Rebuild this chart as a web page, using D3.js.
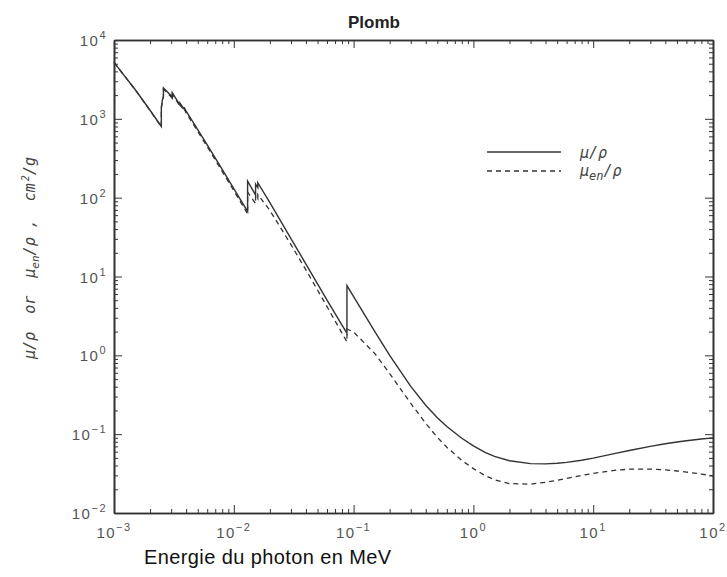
<!DOCTYPE html>
<html>
  <head>
    <title>Plomb</title>
    <style>
      body { margin: 0px; overflow: hidden; background: #fff; }
      svg { display: block; }
    </style>
    <script src="https://d3js.org/d3.v7.min.js"></script>
  </head>
  <body>
    <svg width="727" height="577"></svg>
    <script>
      // photon energy (MeV), edges repeated
      const energy = [
        1e-3, 1.5e-3, 2e-3, 2.484e-3, 2.484e-3, 2.534e-3, 2.586e-3, 2.586e-3, 3e-3,
        3.066e-3, 3.066e-3, 3.3e-3, 3.554e-3, 3.554e-3, 3.7e-3, 3.851e-3, 3.851e-3,
        4e-3, 5e-3, 6e-3, 8e-3, 1e-2, 1.304e-2, 1.304e-2, 1.5e-2, 1.52e-2, 1.52e-2,
        1.586e-2, 1.586e-2, 2e-2, 3e-2, 4e-2, 5e-2, 6e-2, 8e-2, 8.8e-2, 8.8e-2,
        0.1, 0.15, 0.2, 0.3, 0.4, 0.5, 0.6, 0.8, 1, 1.25, 1.5, 2, 3, 4, 5, 6, 8,
        10, 15, 20, 30, 40, 50, 60, 80, 100
      ];
      const muRho = [
        5210, 2356, 1285, 800.6, 1397, 1726, 1944, 2458, 1965,
        1857, 2146, 1796, 1496, 1585, 1442, 1335, 1399,
        1251, 730.4, 467.2, 228.7, 130.6, 67.01, 162.1, 111.6, 107.8, 148.5,
        134.4, 154.8, 86.36, 30.32, 14.36, 8.041, 5.021, 2.419, 1.91, 7.683,
        5.549, 2.014, 0.9985, 0.4031, 0.2323, 0.1614, 0.1248, 0.0887, 0.07102, 0.05876, 0.05222, 0.04606, 0.04234, 0.04197, 0.04272, 0.04391, 0.04675,
        0.04972, 0.05658, 0.06206, 0.07002, 0.07552, 0.07956, 0.08259, 0.08682, 0.08968
      ];
      const muEnRho = [
        5197, 2344, 1274, 789.5, 1366, 1682, 1895, 2390, 1895,
        1791, 2069, 1730, 1443, 1529, 1390, 1286, 1348,
        1190, 693.5, 442.7, 215.4, 122.6, 62.29, 118, 86.36, 83.72, 106.5,
        96.74, 110, 68.99, 25.36, 12.11, 6.74, 4.149, 1.916, 1.482, 2.16,
        1.976, 1.056, 0.587, 0.2455, 0.137, 0.09128, 0.06819, 0.04644, 0.03654, 0.02988, 0.0264, 0.0236, 0.02322, 0.02449, 0.026, 0.02744, 0.02989,
        0.03181, 0.03478, 0.03595, 0.03607, 0.0352, 0.03412, 0.03306, 0.03119, 0.0296
      ];
      const xTickExp = [-3, -2, -1, 0, 1, 2];
      const yTickExp = [-2, -1, 0, 1, 2, 3, 4];

      const svg = d3.select('svg');
      const margin = { top: 40, right: 14, bottom: 64, left: 114 };
      const innerWidth = 727 - margin.left - margin.right;
      const innerHeight = 577 - margin.top - margin.bottom;
      const ink = '#333';
      const mono = '"DejaVu Sans Mono", monospace';
      const sans = '"Liberation Sans", Arial, sans-serif';
      const sp = '\u00a0';

      const xScale = d3.scaleLog().domain([1e-3, 1e2]).range([0, innerWidth]);
      const yScale = d3.scaleLog().domain([1e-2, 1e4]).range([innerHeight, 0]);

      const g = svg.append('g')
        .attr('transform', `translate(${margin.left},${margin.top})`);

      // minor + major ticks, inward on all four sides
      const isPow = v => Math.abs(Math.log10(v) - Math.round(Math.log10(v))) <= 1e-6;
      const minor = sc => sc.ticks().filter(v => !isPow(v));
      const major = sc => sc.ticks().filter(isPow);

      const addAxis = (axis, transform) => {
        const a = g.append('g').attr('transform', transform).call(axis);
        a.select('.domain').attr('stroke', ink).attr('stroke-width', 1.6);
        a.selectAll('.tick line').attr('stroke', ink).attr('stroke-width', 1);
        a.selectAll('text').remove();
      };
      [[d3.axisBottom, `translate(0,${innerHeight})`], [d3.axisTop, 'translate(0,0)']].forEach(([f, tr]) => {
        addAxis(f(xScale).tickValues(minor(xScale)).tickSize(-4).tickSizeOuter(0), tr);
        addAxis(f(xScale).tickValues(major(xScale)).tickSize(-8).tickSizeOuter(0), tr);
      });
      [[d3.axisLeft, 'translate(0,0)'], [d3.axisRight, `translate(${innerWidth},0)`]].forEach(([f, tr]) => {
        addAxis(f(yScale).tickValues(minor(yScale)).tickSize(-4).tickSizeOuter(0), tr);
        addAxis(f(yScale).tickValues(major(yScale)).tickSize(-8).tickSizeOuter(0), tr);
      });

      // tick labels with superscript exponents
      const powLabel = (sel, e) => {
        sel.append('tspan').text('10');
        sel.append('tspan').attr('dy', -7).style('font-size', '11px').text(e < 0 ? '\u2212' + (-e) : e);
      };
      xTickExp.forEach(e => {
        const t = g.append('text')
          .attr('x', xScale(Math.pow(10, e)))
          .attr('y', innerHeight + 25)
          .attr('text-anchor', 'middle')
          .style('font-family', sans).style('font-size', '15px')
          .style('letter-spacing', '1.5px').attr('fill', '#555');
        powLabel(t, e);
      });
      yTickExp.forEach(e => {
        const t = g.append('text')
          .attr('x', -7)
          .attr('y', yScale(Math.pow(10, e)) + 6)
          .attr('text-anchor', 'end')
          .style('font-family', sans).style('font-size', '15px')
          .style('letter-spacing', '1.5px').attr('fill', '#555');
        powLabel(t, e);
      });

      const line = d3.line()
        .x(d => xScale(d[0]))
        .y(d => yScale(d[1]));

      g.append('path')
        .datum(energy.map((e, i) => [e, muEnRho[i]]))
        .attr('d', line)
        .attr('fill', 'none').attr('stroke', ink)
        .attr('stroke-width', 1.3).attr('stroke-dasharray', '5,4');
      g.append('path')
        .datum(energy.map((e, i) => [e, muRho[i]]))
        .attr('d', line)
        .attr('fill', 'none').attr('stroke', ink)
        .attr('stroke-width', 1.4);

      // legend
      const lg = svg.append('g').attr('transform', 'translate(487,152)');
      lg.append('line').attr('x1', 0).attr('x2', 74).attr('y1', 0).attr('y2', 0)
        .attr('stroke', ink).attr('stroke-width', 1.4);
      lg.append('line').attr('x1', 0).attr('x2', 74).attr('y1', 19).attr('y2', 19)
        .attr('stroke', ink).attr('stroke-width', 1.3).attr('stroke-dasharray', '5,4');
      lg.append('text').attr('x', 93).attr('y', 6)
        .style('font-family', mono).style('font-style', 'italic')
        .style('font-size', '15px').attr('fill', '#444').text('\u03bc/\u03c1');
      const le = lg.append('text').attr('x', 93).attr('y', 24)
        .style('font-family', mono).style('font-style', 'italic')
        .style('font-size', '15px').attr('fill', '#444');
      le.append('tspan').text('\u03bc');
      le.append('tspan').attr('dy', 4).style('font-size', '12px').text('en');
      le.append('tspan').attr('dy', -4).text('/\u03c1');

      // y axis label
      const yl = svg.append('text')
        .attr('transform', 'translate(35,258) rotate(-90)')
        .attr('text-anchor', 'middle')
        .style('font-family', mono).style('font-style', 'italic')
        .style('font-size', '15px').attr('fill', '#444');
      yl.append('tspan').text(`\u03bc/\u03c1${sp}${sp}or${sp}${sp}\u03bc`);
      yl.append('tspan').attr('dy', 4).style('font-size', '11px').text('en');
      yl.append('tspan').attr('dy', -4).text(`/\u03c1${sp},${sp}${sp}cm`);
      yl.append('tspan').attr('dy', -6).attr('dx', 2).style('font-size', '10px').text('2');
      yl.append('tspan').attr('dy', 6).text('/g');

      // title and x label
      svg.append('text').attr('x', 374).attr('y', 28).attr('text-anchor', 'middle')
        .style('font-family', sans).style('font-size', '17px').style('font-weight', 'bold')
        .attr('fill', '#222').text('Plomb');
      svg.append('text').attr('x', 144).attr('y', 564)
        .style('font-family', sans).style('font-size', '20px')
        .style('letter-spacing', '0.4px')
        .attr('fill', '#111').text('Energie du photon en MeV');
    </script>
  </body>
</html>
